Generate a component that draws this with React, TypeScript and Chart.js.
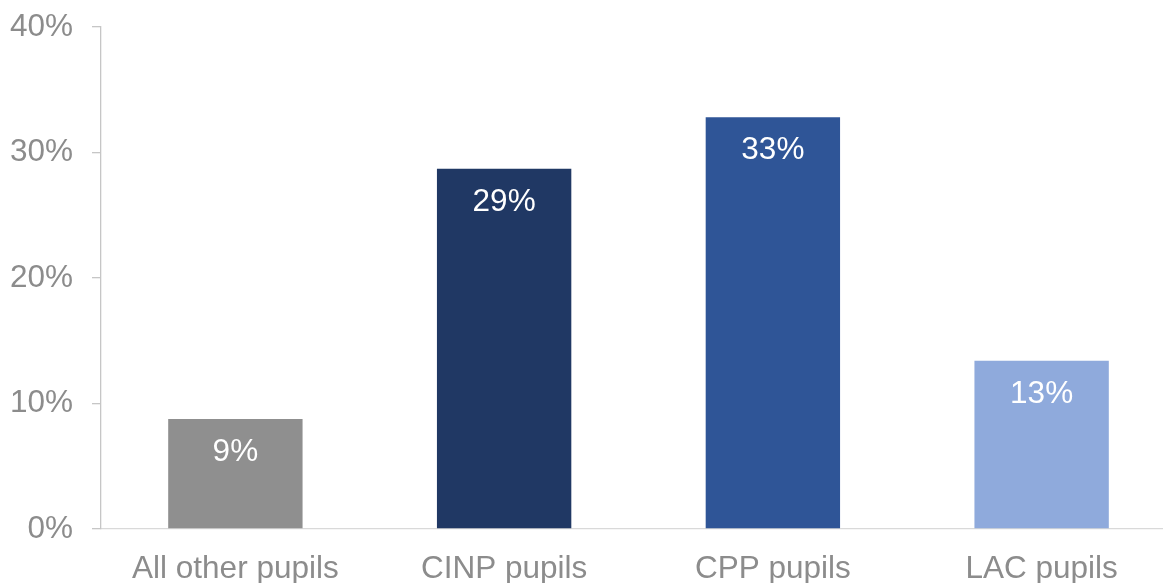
import React, { useEffect, useRef } from "react";
import { Chart, registerables } from "chart.js";

Chart.register(...registerables);

const categories = ["All other pupils", "CINP pupils", "CPP pupils", "LAC pupils"];
const values = [8.76, 28.7, 32.8, 13.4];
const yTicks = [0, 10, 20, 30, 40];
const barColors = ["#8f8f8f", "#203864", "#2f5597", "#8faadc"];

const FONT = "'Liberation Sans', Arial, sans-serif";
const TEXT_GRAY = "#8c8c8c";
const X_AXIS_GRAY = "#d9d9d9";
const Y_AXIS_GRAY = "#c6c6c6";

const labelPlugin = {
  id: "barLabels",
  afterDatasetsDraw(chart: any) {
    const ctx = chart.ctx;
    const meta = chart.getDatasetMeta(0);
    ctx.save();
    ctx.fillStyle = "#ffffff";
    ctx.font = `31.5px ${FONT}`;
    ctx.textAlign = "center";
    ctx.textBaseline = "alphabetic";
    meta.data.forEach((bar: any, i: number) => {
      const txt = Math.round(values[i]) + "%";
      ctx.fillText(txt, bar.x, bar.y + 42);
    });
    ctx.restore();
  },
};

export default function App() {
  const ref = useRef<HTMLCanvasElement>(null);
  useEffect(() => {
    if (!ref.current) return;
    const chart = new Chart(ref.current, {
      type: "bar",
      data: {
        labels: categories,
        datasets: [
          {
            data: values,
            backgroundColor: barColors,
            barPercentage: 0.5,
            categoryPercentage: 1,
          },
        ],
      },
      options: {
        responsive: false,
        maintainAspectRatio: false,
        animation: false,
        devicePixelRatio: 1,
        layout: { padding: { top: 27, left: 0, right: 0, bottom: 0 } },
        plugins: {
          legend: { display: false },
          tooltip: { enabled: false },
        },
        scales: {
          x: {
            grid: { display: false },
            border: { display: true, color: X_AXIS_GRAY, width: 1.3 },
            ticks: {
              color: TEXT_GRAY,
              font: { family: FONT, size: 31.5 },
              padding: 13,
              maxRotation: 0,
            },
            afterFit: (s: any) => {
              s.height = 54;
              s.paddingLeft = 0;
              s.paddingRight = 0;
            },
          },
          y: {
            min: 0,
            max: 40,
            afterBuildTicks: (s: any) => {
              s.ticks = yTicks.map((v) => ({ value: v }));
            },
            grid: {
              display: true,
              drawOnChartArea: false,
              drawTicks: true,
              tickLength: 9,
              color: Y_AXIS_GRAY,
              lineWidth: 1.3,
            },
            border: { display: true, color: Y_AXIS_GRAY, width: 1.3 },
            ticks: {
              color: TEXT_GRAY,
              font: { family: FONT, size: 31.5 },
              padding: 19,
              callback: (v: any) => v + "%",
            },
            afterFit: (s: any) => {
              s.width = 101;
              s.paddingTop = 0;
              s.paddingBottom = 0;
            },
          },
        },
      },
      plugins: [labelPlugin],
    });
    return () => chart.destroy();
  }, []);
  return (
    <div
      style={{
        position: "fixed",
        left: 0,
        top: 0,
        width: 1163,
        height: 583,
        overflow: "hidden",
        background: "#ffffff",
      }}
    >
      <canvas
        ref={ref}
        width={1176}
        height={583}
        style={{ display: "block", width: 1176, height: 583 }}
      />
    </div>
  );
}
